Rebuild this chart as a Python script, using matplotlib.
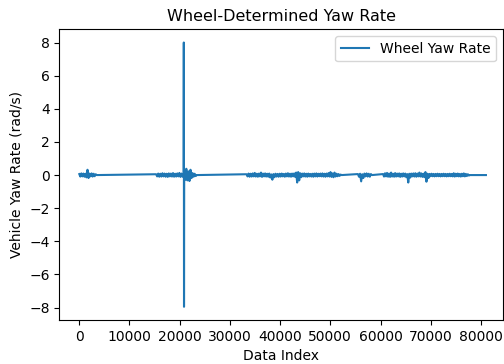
import numpy as np
import matplotlib.pyplot as plt

# data length; the quiet stretches between the noisy segments sit at zero
n_points = 81000

# noisy segments: (start index, end index) and values
seg_a = (0, 3470)
seg_a_vals = [0.06, -0.09, 0.10, -0.08, 0.09, -0.10, 0.08, -0.14, 0.32, -0.18,
              0.09, -0.08, 0.10, -0.09, 0.08, -0.07, 0.05, 0.0]

seg_b1 = (15300, 20780)
seg_b1_vals = [0.05, -0.08, 0.09, -0.10, 0.08, -0.09, 0.11, -0.08, 0.09, -0.10,
               0.08, -0.11, 0.10, -0.08, 0.09, -0.09, 0.12, -0.10, 0.08, -0.09,
               0.10, -0.08, 0.13, -0.11, 0.09, -0.10, 0.08]

spike_idx = [20820, 20860]
spike_vals = [8.0, -7.95]

seg_b2 = (20900, 23400)
seg_b2_vals = [0.18, -0.28, 0.38, -0.32, 0.22, -0.36, 0.32, -0.18, 0.12, -0.10,
               0.08, -0.06, 0.0]

seg_c1 = (33300, 43000)
seg_c1_vals = [0.05, -0.08, 0.09, -0.10, 0.08, -0.09, 0.10, -0.08, 0.13, -0.09,
               0.08, -0.10, 0.09, -0.08, 0.15, -0.11, 0.09, -0.08, 0.10, -0.09,
               0.08, -0.10, 0.09, -0.15, 0.04, -0.28, 0.06, -0.13, 0.08, -0.09,
               0.07, -0.10, 0.08, -0.09, 0.09, -0.08, 0.07, -0.10, 0.09, -0.08,
               0.11, -0.09, 0.08, -0.10, 0.09, -0.08, 0.10, -0.11]
seg_c2 = (43200, 52250)
seg_c2_vals = [0.15, -0.45, 0.18, -0.32, 0.11, -0.13, 0.09, -0.08, 0.10, -0.09,
               0.08, -0.10, 0.09, -0.08, 0.07, -0.09, 0.08, -0.10, 0.09, -0.08,
               0.10, -0.09, 0.08, -0.07, 0.09, -0.08, 0.10, -0.09, 0.08, -0.10,
               0.09, -0.08, 0.12, -0.09, 0.18, -0.11, 0.10, -0.13, 0.15, -0.09,
               0.08, -0.07, 0.06, -0.05, 0.03, 0.0]

seg_d = (55500, 58300)
seg_d_vals = [0.06, -0.10, 0.08, -0.38, 0.05, -0.18, 0.09, -0.08, 0.10, -0.09,
              0.08, -0.10, 0.06, 0.0]

seg_e = (60500, 77800)
seg_e_vals = [0.06, -0.09, 0.11, -0.08, 0.13, -0.10, 0.09, -0.11, 0.15, -0.09,
              0.08, -0.10, 0.12, -0.09, 0.09, -0.08, 0.10, -0.11, 0.08, -0.09,
              0.10, -0.08, 0.09, -0.13, 0.06, -0.45, 0.08, -0.15, 0.09, -0.08,
              0.10, -0.09, 0.11, -0.10, 0.09, -0.08, 0.15, -0.09, 0.10, -0.11,
              0.08, -0.13, 0.18, -0.40, 0.08, -0.18, 0.07, -0.07, 0.08, -0.07,
              0.07, -0.08, 0.07, -0.07, 0.08, -0.07, 0.07, -0.08, 0.07, -0.07,
              0.08, -0.07, 0.07, -0.08, 0.07, -0.07, 0.08, -0.07, 0.07, -0.08,
              0.11, -0.09, 0.08, -0.07, 0.09, -0.08, 0.07, -0.09, 0.08, -0.07,
              0.10, -0.08, 0.07, -0.06, 0.05, -0.03, 0.0]


def build_signal():
    xs = []
    ys = []
    pieces = [
        (seg_a, seg_a_vals),
        (seg_b1, seg_b1_vals),
        None,
        (seg_b2, seg_b2_vals),
        (seg_c1, seg_c1_vals),
        (seg_c2, seg_c2_vals),
        (seg_d, seg_d_vals),
        (seg_e, seg_e_vals),
    ]
    for p in pieces:
        if p is None:
            xs += spike_idx
            ys += spike_vals
            continue
        (start, end), vals = p
        xs += list(np.linspace(start, end, len(vals)))
        ys += vals
    xs.append(n_points)
    ys.append(0.0)
    return np.array(xs), np.array(ys)


x, y = build_signal()

fig = plt.figure(figsize=(5.04, 3.64), dpi=100)
ax = fig.add_axes([59.3 / 504, 44 / 364, (503 - 59.3) / 504, (320 - 29.3) / 364])
ax.plot(x, y, label="Wheel Yaw Rate")
ax.set_xlim(-3983, 84400)
ax.set_title("Wheel-Determined Yaw Rate", fontsize=11.5)
ax.set_xlabel("Data Index")
ax.set_ylabel("Vehicle Yaw Rate (rad/s)")
ax.legend(loc="upper right")

plt.savefig("out.png")
